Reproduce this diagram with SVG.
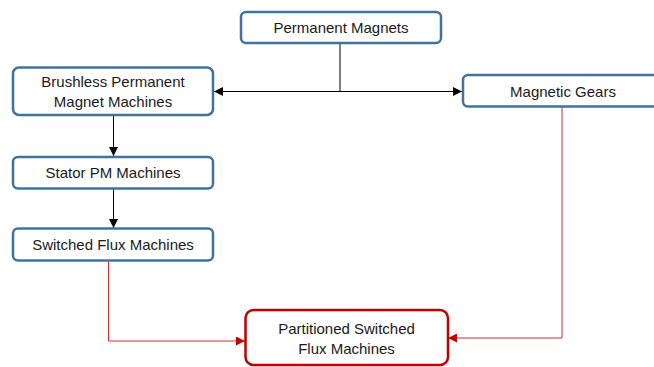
<svg xmlns="http://www.w3.org/2000/svg" width="654" height="367" viewBox="0 0 654 367">
  <defs>
    <marker id="arrowBlack" viewBox="0 0 10 10" refX="10" refY="5" markerWidth="9" markerHeight="9" markerUnits="userSpaceOnUse" orient="auto">
      <path d="M0,0 L10,5 L0,10 z" fill="#000"/>
    </marker>
    <marker id="arrowRed" viewBox="0 0 10 10" refX="10" refY="5" markerWidth="9" markerHeight="9" markerUnits="userSpaceOnUse" orient="auto">
      <path d="M0,0 L10,5 L0,10 z" fill="#c00000"/>
    </marker>
  </defs>
  <style>
    .box { fill: #fff; stroke: #41719c; stroke-width: 2.5; }
    .box-red { fill: #fff; stroke: #c00000; stroke-width: 2.5; }
    .label { font-family: "Liberation Sans", Arial, sans-serif; font-size: 15px; fill: #1a1a1a; text-anchor: middle; }
    .link { fill: none; stroke: #000; stroke-width: 1; }
    .link-red { fill: none; stroke: #d9262e; stroke-width: 1; }
  </style>
  <rect width="654" height="367" fill="#fff"/>

  <g id="connectors">
    <path class="link" d="M340,43 V91.5"/>
    <path class="link" d="M340,91.5 H214" marker-end="url(#arrowBlack)"/>
    <path class="link" d="M340,91.5 H462" marker-end="url(#arrowBlack)"/>
    <path class="link" d="M113.5,115 V156" marker-end="url(#arrowBlack)"/>
    <path class="link" d="M113.5,188.5 V228" marker-end="url(#arrowBlack)"/>
    <path class="link-red" d="M108.5,261 V341 H245" marker-end="url(#arrowRed)"/>
    <path class="link-red" d="M562,107 V338 H448" marker-end="url(#arrowRed)"/>
  </g>

  <g id="permanent-magnets">
    <rect class="box" x="241" y="12" width="200" height="31" rx="5"/>
    <text class="label" x="341" y="32.5">Permanent Magnets</text>
  </g>

  <g id="brushless-pm-machines">
    <rect class="box" x="13" y="67.5" width="200" height="47.5" rx="6"/>
    <text class="label" x="113" y="86.5">Brushless Permanent</text>
    <text class="label" x="113" y="106.5">Magnet Machines</text>
  </g>

  <g id="magnetic-gears">
    <rect class="box" x="463" y="75" width="200" height="31.5" rx="5"/>
    <text class="label" x="563" y="97">Magnetic Gears</text>
  </g>

  <g id="stator-pm-machines">
    <rect class="box" x="13" y="157" width="200" height="31.5" rx="5"/>
    <text class="label" x="113" y="177.5">Stator PM Machines</text>
  </g>

  <g id="switched-flux-machines">
    <rect class="box" x="13" y="228.5" width="200" height="32" rx="5"/>
    <text class="label" x="113" y="250">Switched Flux Machines</text>
  </g>

  <g id="partitioned-sf-machines">
    <rect class="box-red" x="245.5" y="310" width="202.5" height="55" rx="8"/>
    <text class="label" x="346.5" y="333.5">Partitioned Switched</text>
    <text class="label" x="346.5" y="353.5">Flux Machines</text>
  </g>
</svg>
